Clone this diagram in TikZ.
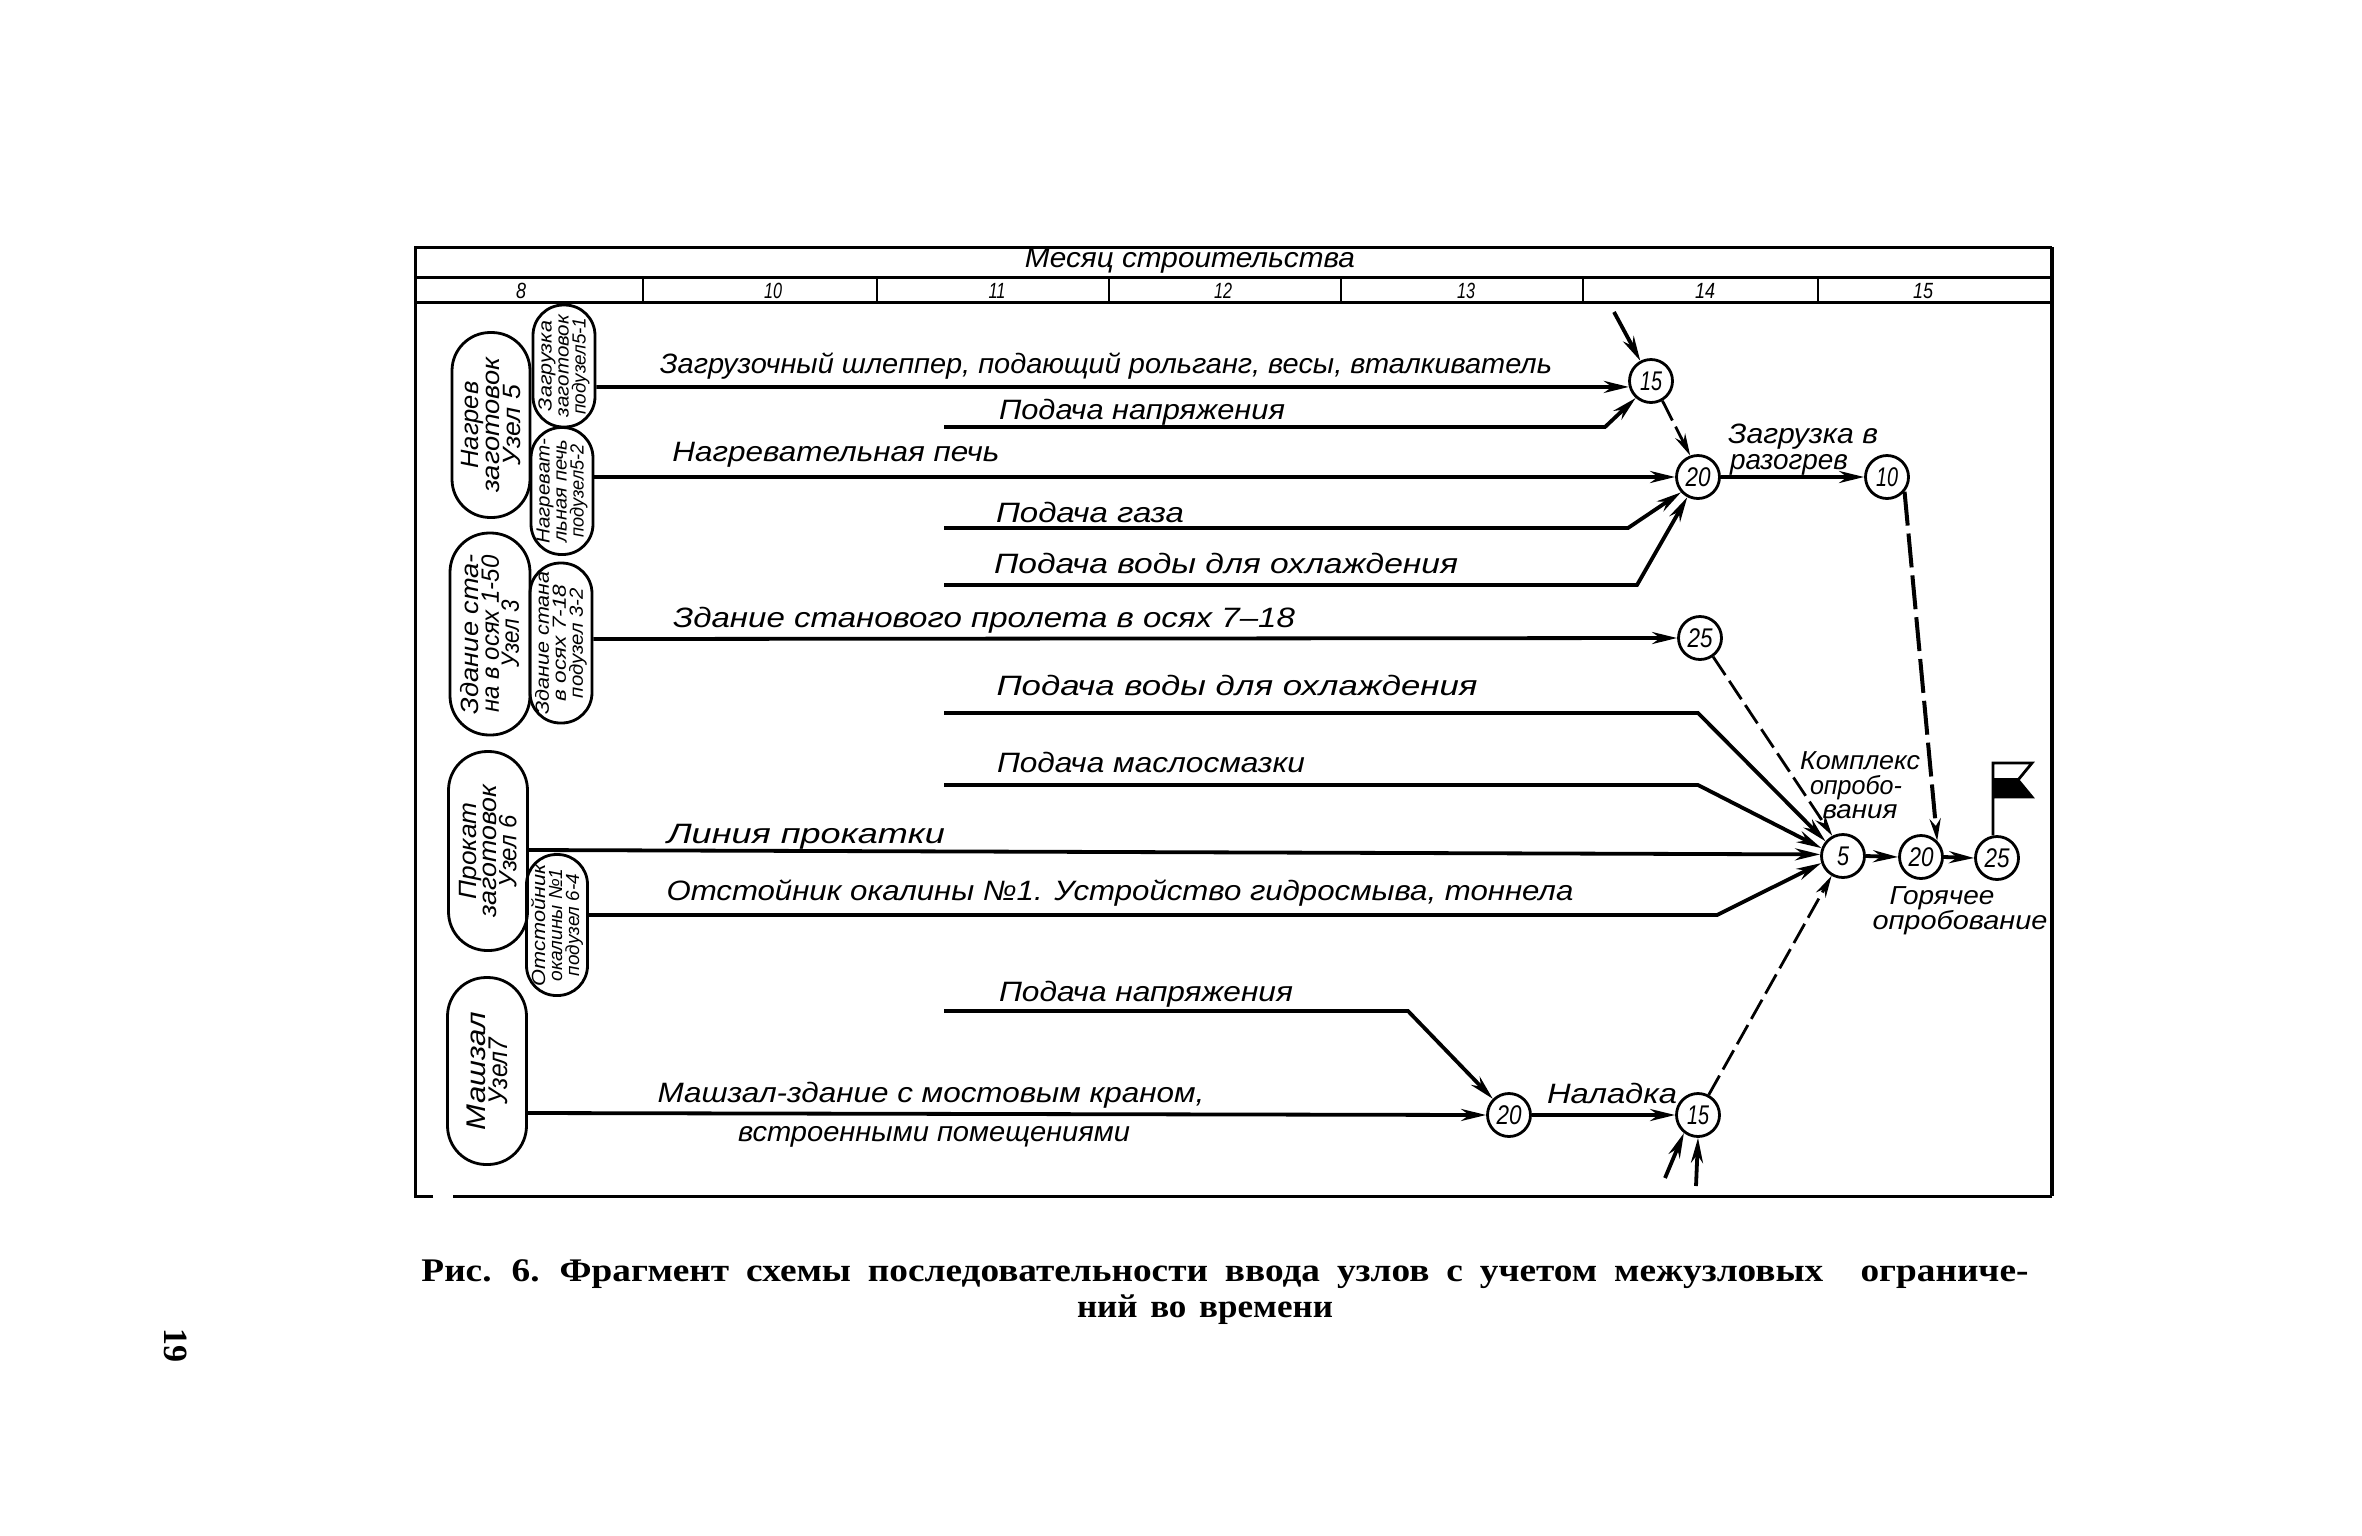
\documentclass[tikz,border=0pt]{standalone}
\usepackage{fontspec}
\usepackage{graphicx}
\usetikzlibrary{arrows.meta}
\setmainfont{Liberation Sans}
\newfontfamily\capfont{Liberation Serif}
\newcommand\fitw[2]{\resizebox{#1pt}{\height}{#2}}
\newcommand\ft[1]{\fontsize{#1}{#1}\selectfont\itshape}
\newcommand\capt[5]{\rotatebox{90}{\parbox{#1pt}{\centering\ft{#2}\lineskiplimit=-100pt \baselineskip=#3pt #4\\ #5}}}
\tikzset{
 x=1pt,y=-1pt,
 frameln/.style={line width=3pt},
 capsty/.style={draw,line width=2.8pt,inner sep=0pt,align=center},
 evt/.style={draw,circle,line width=2.8pt,minimum size=43pt,inner sep=0pt,font=\ft{27}},
 lab/.style={anchor=base,inner sep=0pt,font=\ft{28}},
 num/.style={anchor=center,inner sep=0pt,font=\ft{22}},
 wk/.style={line width=3.8pt,-{Stealth[length=25pt,width=12pt]}},
 dum/.style={line width=2.8pt,dash pattern=on 22pt off 7pt,-{Stealth[length=22pt,width=11pt]}},
 dumb/.style={line width=4pt,dash pattern=on 34pt off 8pt,-{Stealth[length=22pt,width=11pt]}},
}
\newcommand\capsule[6]{% name, cx, cy, w, h, text
 \node[capsty,minimum width=#4pt,minimum height=#5pt,rounded corners={#4*0.49pt}] (#1) at (#2,#3) {#6};}
\begin{document}
\begin{tikzpicture}
\useasboundingbox (0,0) rectangle (2362,1535);
% frame
\draw[frameln] (433,1196) -- (415,1196) -- (415,247) -- (2052,247);
\draw[line width=4.5pt] (2052,247) -- (2052,1196);
\draw[frameln] (453,1196) -- (2052,1196);
\draw[frameln] (415,277) -- (2052,277);
\draw[frameln] (415,302) -- (2052,302);
\foreach \xx in {643,877,1109,1341,1583,1818} \draw[line width=2.6pt] (\xx,277) -- (\xx,302);
\node[num,font=\ft{28}] (hd) at (1190,261) {\fitw{330}{Месяц строительства}};
\node[num] (m8) at (521,291) {\fitw{10}{8}};
\node[num] (m10) at (773,291) {\fitw{18}{10}};
\node[num] (m11) at (997,291) {\fitw{17}{11}};
\node[num] (m12) at (1223,291) {\fitw{18}{12}};
\node[num] (m13) at (1466,291) {\fitw{18}{13}};
\node[num] (m14) at (1705,291) {\fitw{20}{14}};
\node[num] (m15) at (1923,291) {\fitw{20}{15}};
% capsules
\capsule{u5}{491}{425}{78}{185}{\capt{185}{25}{21}{\fitw{87}{Нагрев}\\ \fitw{135}{заготовок}}{\fitw{80}{Узел 5}}}
\capsule{s51}{564}{366}{62}{122}{\capt{122}{19}{17}{\fitw{90}{Загрузка}\\ \fitw{102}{заготовок}}{\fitw{97}{подузел5-1}}}
\capsule{s52}{562}{491}{62}{127}{\capt{127}{19}{17}{\fitw{105}{Нагреват-}\\ \fitw{103}{льная печь}}{\fitw{93}{подузел5-2}}}
\capsule{u3}{490}{634}{80}{202}{\capt{202}{25}{20}{\fitw{160}{Здание ста-}\\ \fitw{157}{на в осях 1-50}}{\fitw{67}{Узел 3}}}
\capsule{s32}{561}{643}{62}{160}{\capt{160}{19}{17}{\fitw{143}{Здание стана}\\ \fitw{117}{в осях 7-18}}{\fitw{110}{подузел 3-2}}}
\capsule{u6}{488}{851}{79}{199}{\capt{199}{25}{20}{\fitw{97}{Прокат}\\ \fitw{133}{заготовок}}{\fitw{72}{Узел 6}}}
\capsule{s64}{557}{925}{61}{141}{\capt{141}{19}{17}{\fitw{122}{Отстойник}\\ \fitw{113}{окалины №1}}{\fitw{102}{подузел 6-4}}}
\capsule{u7}{487}{1071}{79}{187}{\rotatebox{90}{\parbox{187pt}{\centering\ft{27}\lineskiplimit=-100pt \baselineskip=22pt \fitw{118}{Машзал}\\ \fitw{67}{Узел7}}}}
% events
\node[evt] (e15a) at (1651,381) {\fitw{22}{15}};
\node[evt] (e20a) at (1698,477) {\fitw{25}{20}};
\node[evt] (e10) at (1887,477) {\fitw{22}{10}};
\node[evt] (e25a) at (1700,638) {\fitw{25}{25}};
\node[evt] (e5) at (1843,856) {\fitw{12}{5}};
\node[evt] (e20b) at (1921,857) {\fitw{25}{20}};
\node[evt] (e25b) at (1997,858) {\fitw{25}{25}};
\node[evt] (e20c) at (1509,1115) {\fitw{25}{20}};
\node[evt] (e15b) at (1698,1115) {\fitw{22}{15}};
% free ends
\coordinate (s2) at (944,427);
\coordinate (s4) at (944,528);
\coordinate (s5) at (944,585);
\coordinate (s7) at (944,713);
\coordinate (s8) at (944,785);
\coordinate (s11) at (944,1011);
\coordinate (f1) at (1614,312);
\coordinate (f2) at (1665,1178);
\coordinate (f3) at (1696,1186);
% solid connectors
\draw[wk] ([yshift=-21pt]s51.east) -- (e15a.195);
\draw[wk] (s2) -- (1605,427) -- (e15a.228);
\draw[wk] (f1) -- (e15a.118);
\draw[wk] ([yshift=14pt]s52.east) -- (e20a.west);
\draw[wk] (s4) -- (1628,528) -- (e20a.222);
\draw[wk] (s5) -- (1637,585) -- (e20a.242);
\draw[wk] (e20a.east) -- (e10.west);
\draw[wk] ([yshift=4pt]s32.east) -- (e25a.west);
\draw[wk] (s7) -- (1698,713) -- (e5.140);
\draw[wk] (s8) -- (1698,785) -- (e5.160);
\draw[wk] ([yshift=1pt]u6.east) -- (e5.176);
\draw[wk] ([yshift=10pt]s64.east) -- (1717,915) -- (e5.198);
\draw[wk] (s11) -- (1408,1011) -- (e20c.135);
\draw[wk] ([yshift=-42pt]u7.east) -- (e20c.west);
\draw[wk] (e20c.east) -- (e15b.west);
\draw[wk] (e5.east) -- (e20b.west);
\draw[wk] (e20b.east) -- (e25b.west);
\draw[wk] (f2) -- (e15b.232);
\draw[wk] (f3) -- (e15b.270);
% dashed connectors
\draw[dum] (e15a.300) -- (e20a.110);
\draw[dum] (e25a.305) -- (e5.118);
\draw[dum] (e15b.62) -- (e5.240);
\draw[dumb] (e10.320) -- (e20b.45);
% flag
\draw[line width=2.8pt] (e25b.100) -- (1993,763) -- (2032,763) -- (2018,780) -- (2032,797) -- (1993,797);
\fill (1993,778) -- (2020,778) -- (2018,780) -- (2032,797) -- (1993,797) -- cycle;
% labels
\node[lab] (t1) at (1106,373) {\fitw{892}{Загрузочный шлеппер, подающий рольганг, весы, вталкиватель}};
\node[lab] (t2) at (1142,419) {\fitw{286}{Подача напряжения}};
\node[lab] (t3) at (836,461) {\fitw{327}{Нагревательная печь}};
\node[lab] (t4) at (1090,522) {\fitw{188}{Подача газа}};
\node[lab] (t5) at (1226,573) {\fitw{464}{Подача воды для охлаждения}};
\node[lab] (t6) at (984,627) {\fitw{622}{Здание станового пролета в осях 7–18}};
\node[lab] (t7) at (1237,695) {\fitw{481}{Подача воды для охлаждения}};
\node[lab] (t8) at (1151,772) {\fitw{308}{Подача маслосмазки}};
\node[lab] (t9) at (806,843) {\fitw{278}{Линия прокатки}};
\node[lab] (t10) at (1120,900) {\fitw{907}{Отстойник окалины №1. Устройство гидросмыва, тоннела}};
\node[lab] (t11) at (1146,1001) {\fitw{294}{Подача напряжения}};
\node[lab] (t12) at (931,1102) {\fitw{547}{Машзал-здание с мостовым краном,}};
\node[lab] (t13) at (934,1141) {\fitw{392}{встроенными помещениями}};
\node[lab] (t14) at (1612,1103) {\fitw{130}{Наладка}};
\node[lab] (t15) at (1803,443) {\fitw{150}{Загрузка в}};
\node[lab] (t16) at (1789,469) {\fitw{118}{разогрев}};
\node[lab,font=\ft{26}] (t17) at (1860,769) {\fitw{120}{Комплекс}};
\node[lab,font=\ft{26}] (t18) at (1856,794) {\fitw{92}{опробо-}};
\node[lab,font=\ft{26}] (t19) at (1860,818) {\fitw{75}{вания}};
\node[lab,font=\ft{26}] (t20) at (1942,904) {\fitw{105}{Горячее}};
\node[lab,font=\ft{26}] (t21) at (1960,929) {\fitw{175}{опробование}};
% caption
\node[anchor=base,inner sep=0pt,font=\capfont\bfseries\fontsize{33}{33}\selectfont] (c1) at (1225,1281) {\fitw{1607}{\spaceskip=15pt Рис. 6. Фрагмент схемы последовательности ввода узлов с учетом межузловых\quad ограниче-}};
\node[anchor=base,inner sep=0pt,font=\capfont\bfseries\fontsize{33}{33}\selectfont] (c2) at (1205,1317) {\fitw{256}{\spaceskip=12pt ний во времени}};
\node[rotate=-90,inner sep=0pt,font=\capfont\bfseries\fontsize{34}{34}\selectfont] (pg) at (176,1345) {19};
\end{tikzpicture}
\end{document}
